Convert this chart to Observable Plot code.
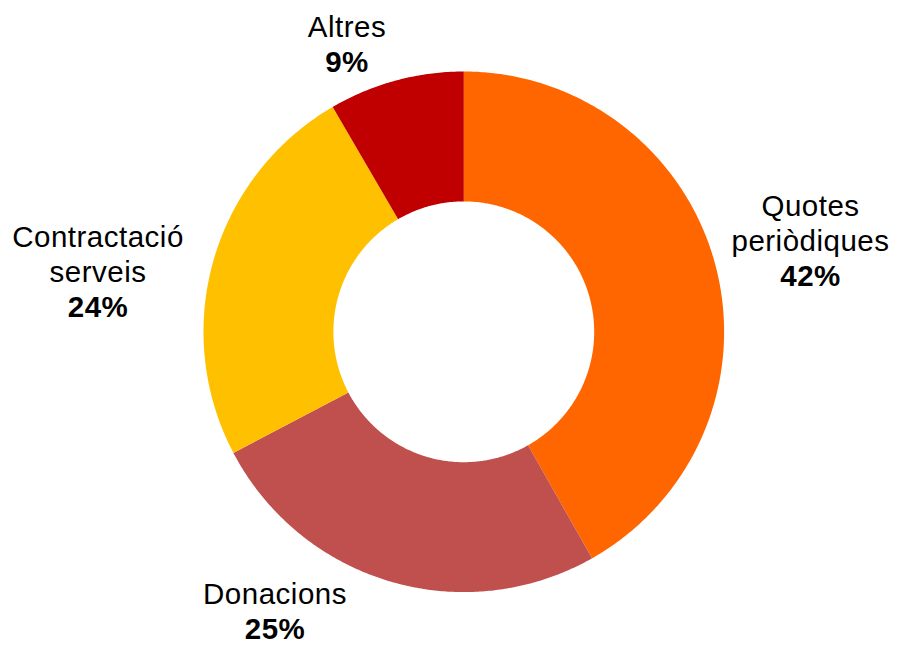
<!DOCTYPE html>
<html>
<head>
<meta charset="utf-8">
<script src="https://cdn.jsdelivr.net/npm/d3@7"></script>
<script src="https://cdn.jsdelivr.net/npm/@observablehq/plot@0.6"></script>
<style>
  html, body { margin: 0; padding: 0; background: #fff; }
  #chart svg text { letter-spacing: 0.5px; }
</style>
</head>
<body>
<div id="chart"></div>
<script>
// ---- Data ----
const categories = ["Quotes periòdiques", "Donacions", "Contractació serveis", "Altres"];
const labelNames = ["Quotes\nperiòdiques", "Donacions", "Contractació\nserveis", "Altres"];
const values = [41.8, 25.5, 24.3, 8.4];
const pctLabels = ["42%", "25%", "24%", "9%"];
const colors = ["#FF6600", "#C0504D", "#FFC000", "#C00000"];

// ---- Layout ----
const W = 897, H = 645;
const CX = 463.3, CY = 331.3, R_OUT = 260.3, R_IN = 130.4;
const labelAnchors = [[810, 250], [274.5, 603.5], [97.5, 281.7], [346.5, 36.7]]; // name last-line baseline
const LINE = 35;
const FS = 29.5;

// ---- Build donut polygons from values ----
const total = d3.sum(values);
const pts = [];
let acc = 0;
values.forEach((v, i) => {
  const a0 = acc / total * 2 * Math.PI;
  acc += v;
  const a1 = acc / total * 2 * Math.PI;
  const n = Math.max(2, Math.ceil((a1 - a0) / (Math.PI / 360)));
  for (let k = 0; k <= n; k++) {
    const a = a0 + (a1 - a0) * k / n;
    pts.push({cat: categories[i], x: CX + R_OUT * Math.sin(a), y: CY - R_OUT * Math.cos(a)});
  }
  for (let k = n; k >= 0; k--) {
    const a = a0 + (a1 - a0) * k / n;
    pts.push({cat: categories[i], x: CX + R_IN * Math.sin(a), y: CY - R_IN * Math.cos(a)});
  }
});

const labels = categories.map((c, i) => ({
  cat: c, name: labelNames[i], pct: pctLabels[i],
  x: labelAnchors[i][0], y: labelAnchors[i][1]
}));

const chart = Plot.plot({
  width: W, height: H,
  margin: 0,
  x: {domain: [0, W], range: [0, W], axis: null},
  y: {domain: [0, H], range: [0, H], axis: null},
  color: {domain: categories, range: colors},
  style: {fontFamily: "'Liberation Sans', Arial, sans-serif", background: "#fff"},
  marks: [
    Plot.line(pts, {x: "x", y: "y", z: "cat", fill: "cat", stroke: "none", curve: "linear"}),
    Plot.text(labels, {x: "x", y: "y", text: "name", fontSize: FS, lineAnchor: "bottom", lineHeight: LINE / FS, fill: "#000", textAnchor: "middle"}),
    Plot.text(labels, {x: "x", y: d => d.y + LINE, text: "pct", fontSize: FS, fontWeight: "bold", lineAnchor: "bottom", fill: "#000", textAnchor: "middle"})
  ]
});
document.getElementById("chart").appendChild(chart);
</script>
</body>
</html>
